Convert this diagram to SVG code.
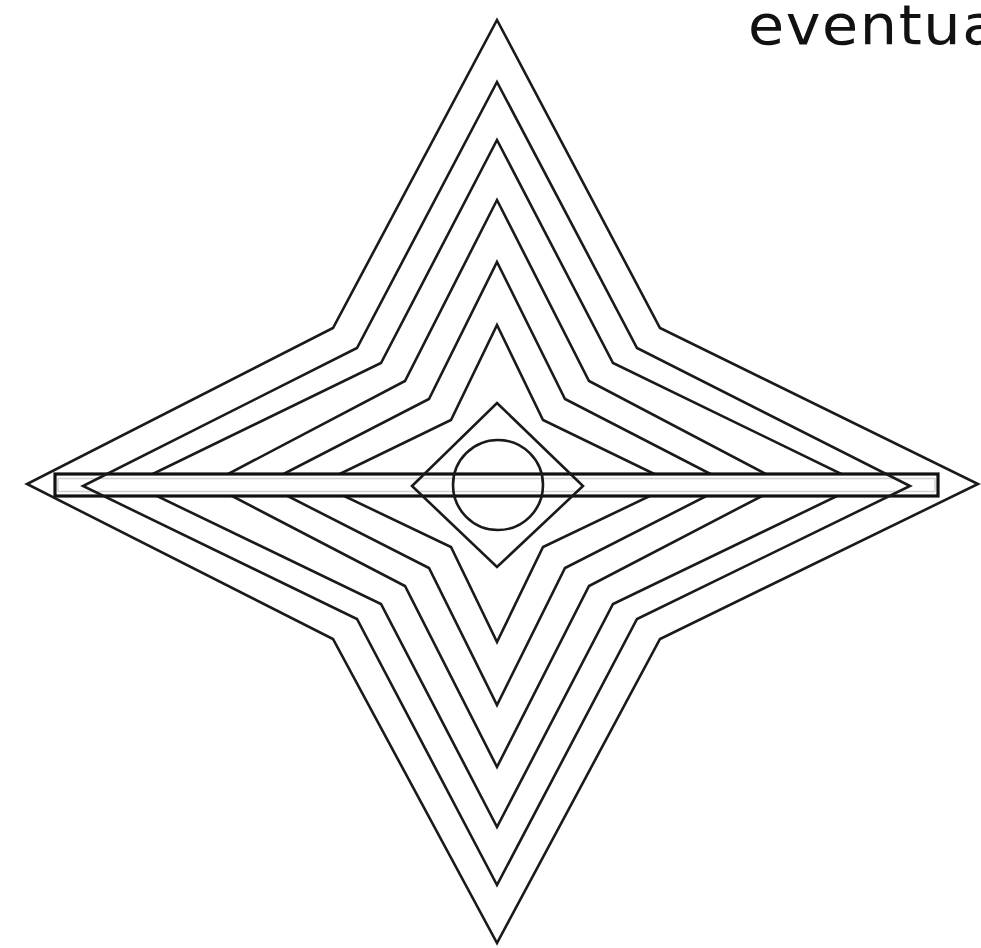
<svg xmlns="http://www.w3.org/2000/svg" width="981" height="948" viewBox="0 0 981 948">
<style>
.star{fill:none;stroke:#1a1a1a;stroke-width:2.6;stroke-linejoin:miter}
.bar{fill:#ffffff;stroke:#111;stroke-width:3.2}
.barin{fill:none;stroke:#d2d2d2;stroke-width:1.6}
.lbl{font-family:"DejaVu Sans","Liberation Sans",sans-serif;font-size:56px;fill:#111;letter-spacing:1.5px}
</style>
<rect width="981" height="948" fill="#ffffff"/>
<g id="contours-inner">
<polygon id="star3" class="star" points="497,140 613,363 862,484 613,604 497,827 381,604 132,484 381,363"/>
<polygon id="star4" class="star" points="497,200 589,381 785,484 589,586 497,767 405,586 209,484 405,381"/>
<polygon id="star5" class="star" points="497,262 565,399 730,484 565,568 497,705 429,568 264,484 429,399"/>
<polygon id="star6" class="star" points="497,325 543,420 675,484 543,547 497,642 451,547 319,484 451,420"/>
</g>
<g id="bar">
<rect class="bar" x="55" y="474" width="883" height="22"/>
<rect class="barin" x="58" y="478.5" width="877" height="13"/>
</g>
<g id="contours-outer">
<polygon id="star1" class="star" points="497,20 660,328 978,484 660,639 497,943 333,639 27,484 333,328"/>
<polygon id="star2" class="star" points="497,82 637,348 910,486 637,619 497,885 357,619 83,486 357,348"/>
</g>
<g id="core">
<polygon id="diamond" class="star" points="497,403 583,486 497,567 412,486"/>
<circle id="circle" class="star" cx="498" cy="485" r="45"/>
</g>
<text class="lbl" transform="translate(748,44) scale(1.05,1)" x="0" y="0">eventua</text>
</svg>
